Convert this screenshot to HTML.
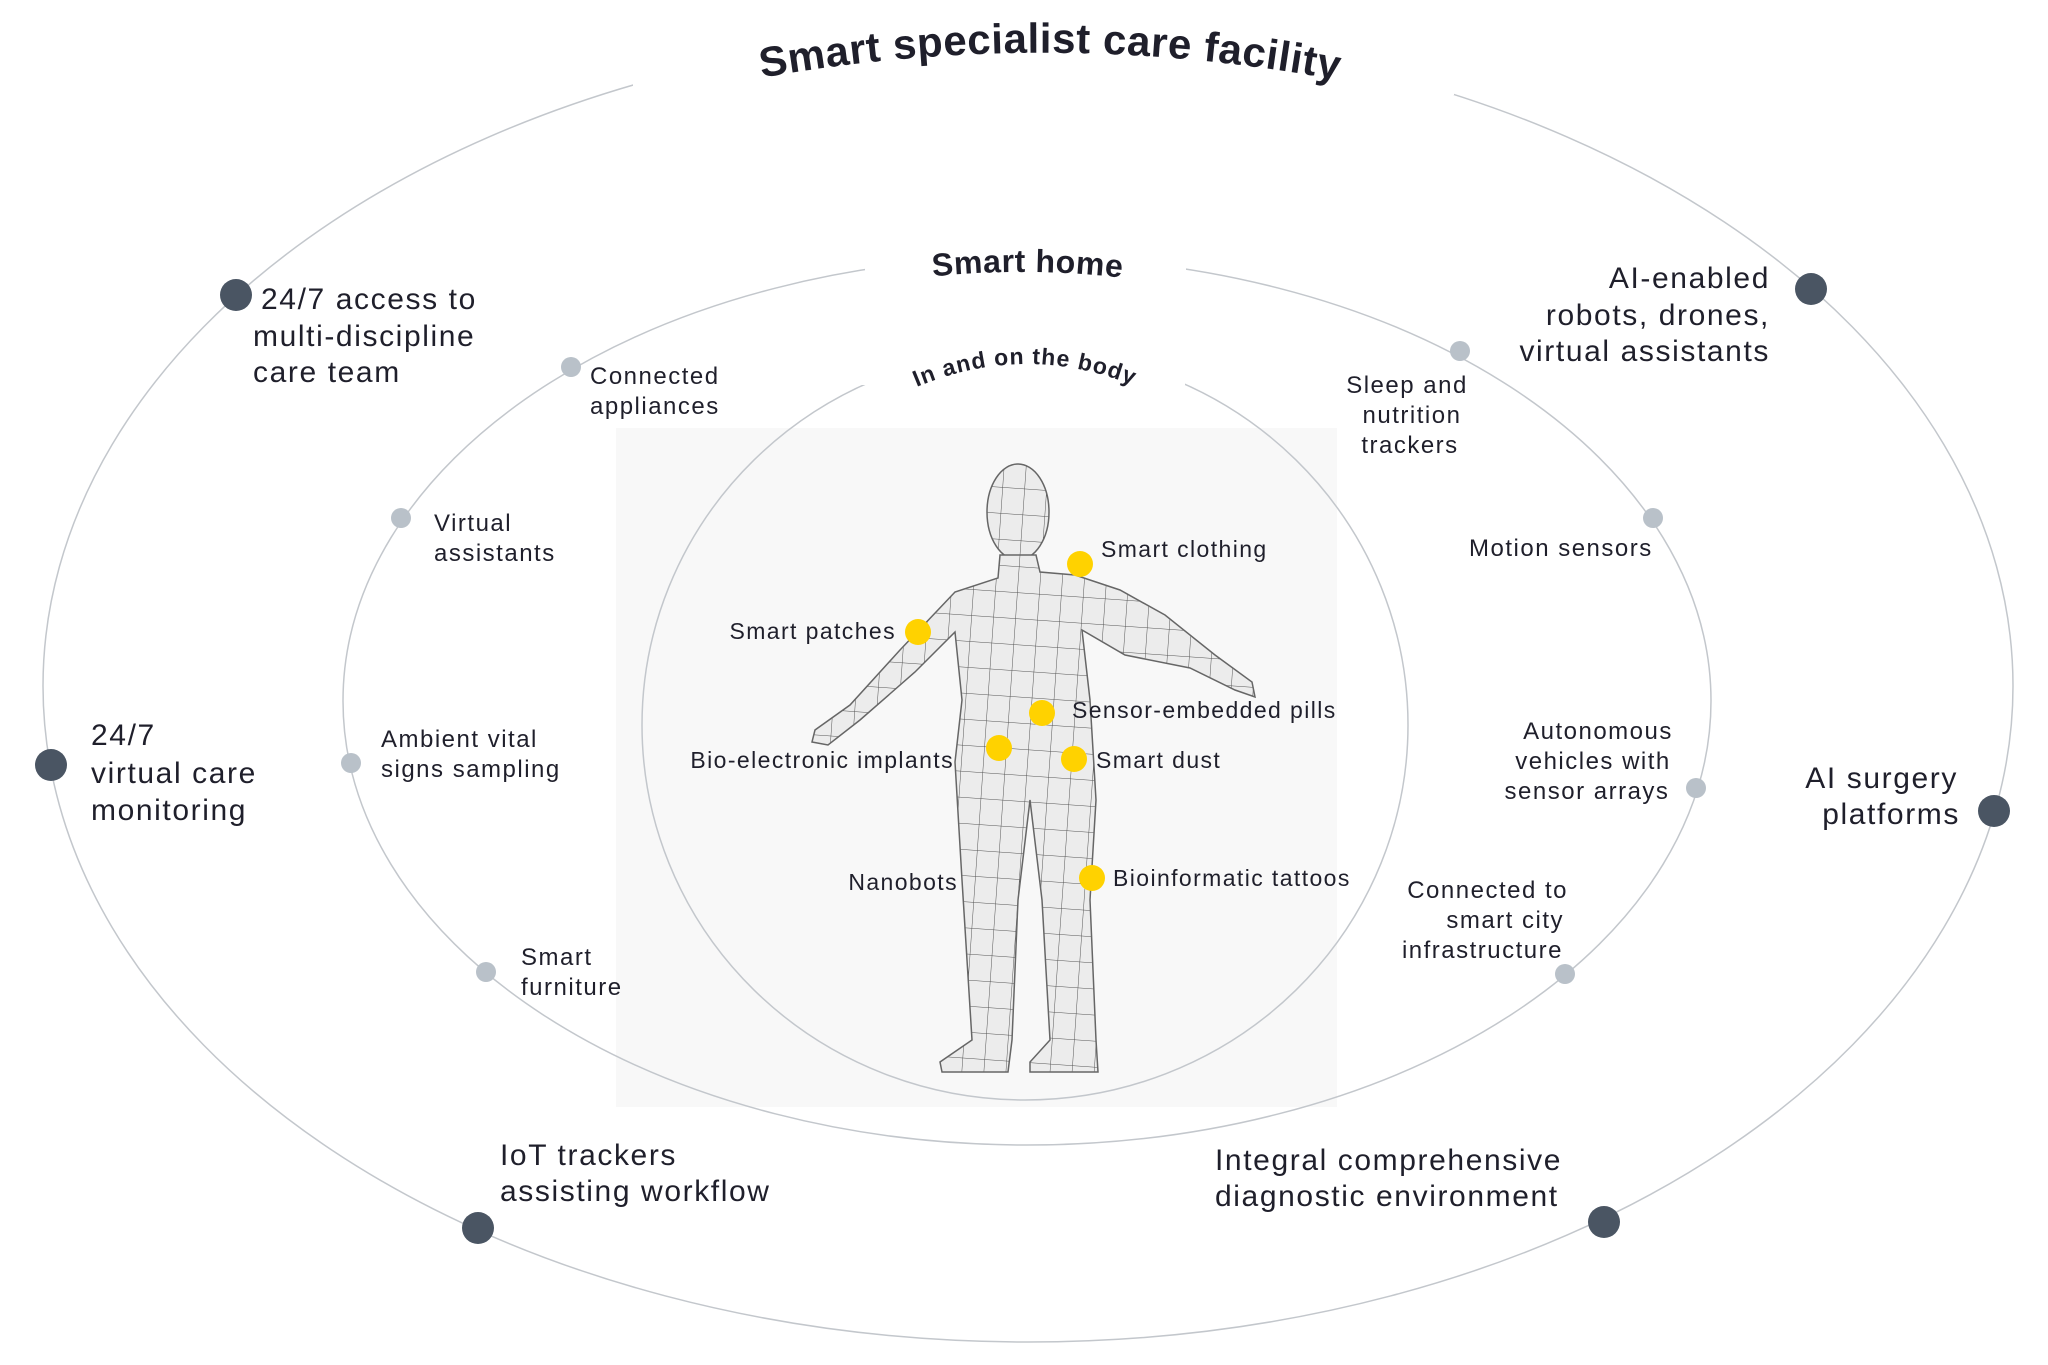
<!DOCTYPE html>
<html><head><meta charset="utf-8"><style>
html,body{margin:0;padding:0;background:#fff}
svg{display:block}
text{font-family:"Liberation Sans",sans-serif;fill:#1f1f2b}
.o{font-size:30px;letter-spacing:1.6px}
.m{font-size:24px;letter-spacing:1.5px}
.b{font-size:23px;letter-spacing:1.4px}
</style></head><body>
<svg width="2048" height="1365" viewBox="0 0 2048 1365" xmlns="http://www.w3.org/2000/svg">
<defs>
<pattern id="grid" width="22" height="26" patternUnits="userSpaceOnUse" patternTransform="rotate(4)">
<rect width="22" height="26" fill="#ececec"/>
<path d="M0 0H22M0 0V26" stroke="#555" stroke-width="1"/>
</pattern>
<path id="tp1" d="M 690 92 Q 1050 12 1410 95"/>
<path id="tp2" d="M 870 285 Q 1027 258 1185 287"/>
<path id="tp3" d="M 895 397 Q 1025 332 1155 395"/>
</defs>
<rect x="616" y="428" width="721" height="679" fill="#f8f8f8"/>
<g fill="none" stroke="#c3c7cc" stroke-width="1.5">
<ellipse cx="1028" cy="686" rx="985" ry="656"/>
<ellipse cx="1027" cy="701" rx="684" ry="444"/>
<ellipse cx="1025" cy="725" rx="383" ry="375"/>
</g>
<rect x="633" y="0" width="821" height="95" fill="#fff"/>
<rect x="865" y="235" width="321" height="50" fill="#fff"/>
<rect x="858" y="335" width="327" height="50" fill="#fff"/>
<text style="font-size:42px;font-weight:bold;letter-spacing:0.5px"><textPath href="#tp1" startOffset="50%" text-anchor="middle">Smart specialist care facility</textPath></text>
<text style="font-size:32px;font-weight:bold;letter-spacing:0.5px"><textPath href="#tp2" startOffset="50%" text-anchor="middle">Smart home</textPath></text>
<text style="font-size:23px;font-weight:bold;letter-spacing:1px"><textPath href="#tp3" startOffset="50%" text-anchor="middle">In and on the body</textPath></text>
<!-- figure -->
<ellipse cx="1018" cy="512" rx="31" ry="48" fill="url(#grid)" stroke="#666" stroke-width="1.5"/>
<path d="M1000 555 L998 578 L955 592 L900 650 L850 705 L815 730 L812 742 L828 745 L860 720 L915 672 L955 632 L962 700 L955 762 L962 880 L972 1040 L940 1062 L942 1072 L1008 1072 L1012 1040 L1018 900 L1030 800 L1042 900 L1050 1040 L1030 1062 L1030 1072 L1098 1072 L1096 1040 L1090 900 L1096 800 L1090 700 L1082 630 L1125 655 L1190 668 L1235 690 L1255 697 L1252 682 L1215 655 L1165 615 L1120 590 L1075 575 L1040 572 L1036 555 Z" fill="url(#grid)" stroke="#666" stroke-width="1.5"/>
<g fill="#4a5563">
<circle cx="236" cy="295" r="16"/><circle cx="1811" cy="289" r="16"/>
<circle cx="51" cy="765" r="16"/><circle cx="1994" cy="811" r="16"/>
<circle cx="478" cy="1228" r="16"/><circle cx="1604" cy="1222" r="16"/>
</g>
<g fill="#b9c1c9">
<circle cx="571" cy="367" r="10"/><circle cx="401" cy="518" r="10"/>
<circle cx="351" cy="763" r="10"/><circle cx="486" cy="972" r="10"/>
<circle cx="1460" cy="351" r="10"/><circle cx="1653" cy="518" r="10"/>
<circle cx="1696" cy="788" r="10"/><circle cx="1565" cy="974" r="10"/>
</g>
<g fill="#ffd200">
<circle cx="1080" cy="564" r="13"/><circle cx="918" cy="632" r="13"/>
<circle cx="1042" cy="713" r="13"/><circle cx="999" cy="748" r="13"/>
<circle cx="1074" cy="759" r="13"/><circle cx="1092" cy="878" r="13"/>
</g>
<g class="o">
<text x="261" y="309">24/7 access to</text>
<text x="253" y="346">multi-discipline</text>
<text x="253" y="382">care team</text>
<text x="1770" y="288" text-anchor="end">AI-enabled</text>
<text x="1770" y="325" text-anchor="end">robots, drones,</text>
<text x="1770" y="361" text-anchor="end">virtual assistants</text>
<text x="91" y="745">24/7</text>
<text x="91" y="783">virtual care</text>
<text x="91" y="820">monitoring</text>
<text x="1958" y="788" text-anchor="end">AI surgery</text>
<text x="1960" y="824" text-anchor="end">platforms</text>
<text x="500" y="1165">IoT trackers</text>
<text x="500" y="1201">assisting workflow</text>
<text x="1215" y="1170">Integral comprehensive</text>
<text x="1215" y="1206">diagnostic environment</text>
</g>
<g class="m">
<text x="590" y="384">Connected</text>
<text x="590" y="414">appliances</text>
<text x="434" y="531">Virtual</text>
<text x="434" y="561">assistants</text>
<text x="381" y="747">Ambient vital</text>
<text x="381" y="777">signs sampling</text>
<text x="521" y="965">Smart</text>
<text x="521" y="995">furniture</text>
<text x="1407" y="393" text-anchor="middle">Sleep and</text>
<text x="1412" y="423" text-anchor="middle">nutrition</text>
<text x="1410" y="453" text-anchor="middle">trackers</text>
<text x="1469" y="556">Motion sensors</text>
<text x="1598" y="739" text-anchor="middle">Autonomous</text>
<text x="1593" y="769" text-anchor="middle">vehicles with</text>
<text x="1587" y="799" text-anchor="middle">sensor arrays</text>
<text x="1568" y="898" text-anchor="end">Connected to</text>
<text x="1564" y="928" text-anchor="end">smart city</text>
<text x="1563" y="958" text-anchor="end">infrastructure</text>
</g>
<g class="b">
<text x="1101" y="557">Smart clothing</text>
<text x="896" y="639" text-anchor="end">Smart patches</text>
<text x="1072" y="718">Sensor-embedded pills</text>
<text x="954" y="768" text-anchor="end">Bio-electronic implants</text>
<text x="1096" y="768">Smart dust</text>
<text x="958" y="890" text-anchor="end">Nanobots</text>
<text x="1113" y="886">Bioinformatic tattoos</text>
</g>
</svg>
</body></html>
